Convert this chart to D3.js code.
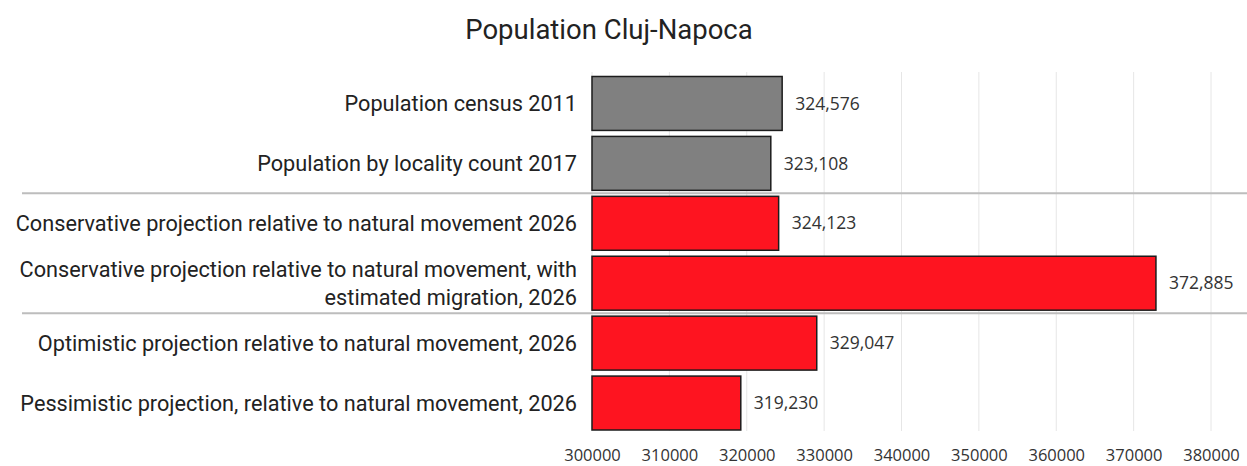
<!DOCTYPE html>
<html>
<head>
<meta charset="utf-8">
<script src="https://cdn.jsdelivr.net/npm/d3@7"></script>
<style>
  html, body { margin: 0; padding: 0; background: #fff; }
  svg { display: block; }
</style>
</head>
<body>
<svg id="chart" width="1247" height="466"></svg>
<script>
// Population figures for Cluj-Napoca: recorded counts and 2026 projections
const categories = [
  ["Population census 2011"],
  ["Population by locality count 2017"],
  ["Conservative projection relative to natural movement 2026"],
  ["Conservative projection relative to natural movement, with", "estimated migration, 2026"],
  ["Optimistic projection relative to natural movement, 2026"],
  ["Pessimistic projection, relative to natural movement, 2026"]
];
const values = [324576, 323108, 324123, 372885, 329047, 319230];
const kinds = ["recorded", "recorded", "projection", "projection", "projection", "projection"];
const tickValues = [300000, 310000, 320000, 330000, 340000, 350000, 360000, 370000, 380000];
// separators are drawn before these category indices
const groupStarts = [2, 4];

const svg = d3.select("#chart");
const fillFor = { recorded: "#808080", projection: "#fe1420" };

const x = d3.scaleLinear().domain([300000, 380000]).range([592, 1211]);
const y = d3.scaleBand()
  .domain(d3.range(categories.length))
  .range([73.5, 433])
  .paddingInner(0.1)
  .paddingOuter(0.05);

// title
svg.append("text")
  .attr("x", 609).attr("y", 39)
  .attr("text-anchor", "middle")
  .style("font-family", "Roboto, sans-serif")
  .style("font-size", "27.5px")
  .style("fill", "#222")
  .text("Population Cluj-Napoca");

// vertical gridlines
svg.append("g").selectAll("line")
  .data(tickValues)
  .join("line")
  .attr("x1", d => x(d)).attr("x2", d => x(d))
  .attr("y1", 72).attr("y2", 431)
  .attr("stroke", "#e6e6e6")
  .attr("stroke-width", 1);

// group separators
svg.append("g").selectAll("line")
  .data(groupStarts)
  .join("line")
  .attr("x1", 22).attr("x2", 1247)
  .attr("y1", d => y(d) - y.step() * y.paddingInner() / 2)
  .attr("y2", d => y(d) - y.step() * y.paddingInner() / 2)
  .attr("stroke", "#bdbdbd")
  .attr("stroke-width", 2);

// bars
svg.append("g").selectAll("rect")
  .data(values)
  .join("rect")
  .attr("x", x(300000))
  .attr("y", (d, i) => y(i))
  .attr("width", d => x(d) - x(300000))
  .attr("height", y.bandwidth())
  .attr("fill", (d, i) => fillFor[kinds[i]])
  .attr("stroke", "#1c1c1c")
  .attr("stroke-width", 1.5);

// value labels
svg.append("g").selectAll("text")
  .data(values)
  .join("text")
  .attr("x", d => x(d) + 13)
  .attr("y", (d, i) => y(i) + y.bandwidth() / 2)
  .attr("dy", "0.35em")
  .style("font-family", "'Open Sans', sans-serif")
  .style("font-size", "17.5px")
  .style("fill", "#333")
  .text(d => d3.format(",")(d));

// category labels
const catG = svg.append("g");
categories.forEach((lines, i) => {
  const cy = y(i) + y.bandwidth() / 2;
  const lh = 28;
  const t = catG.append("text")
    .attr("text-anchor", "end")
    .style("font-family", "Roboto, sans-serif")
    .style("font-size", "21.7px")
    .style("fill", "#222");
  lines.forEach((ln, j) => {
    t.append("tspan")
      .attr("x", 577)
      .attr("y", cy + (j - (lines.length - 1) / 2) * lh)
      .attr("dy", "0.35em")
      .text(ln);
  });
});

// x axis tick labels
const axis = d3.axisBottom(x).tickValues(tickValues).tickSize(0).tickPadding(0)
  .tickFormat(d3.format("d"));
const ax = svg.append("g").attr("transform", "translate(0,461)").call(axis);
ax.select(".domain").remove();
ax.selectAll("text")
  .attr("dy", "0")
  .style("font-family", "'Open Sans', sans-serif")
  .style("font-size", "16.5px")
  .style("fill", "#333");
</script>
</body>
</html>
